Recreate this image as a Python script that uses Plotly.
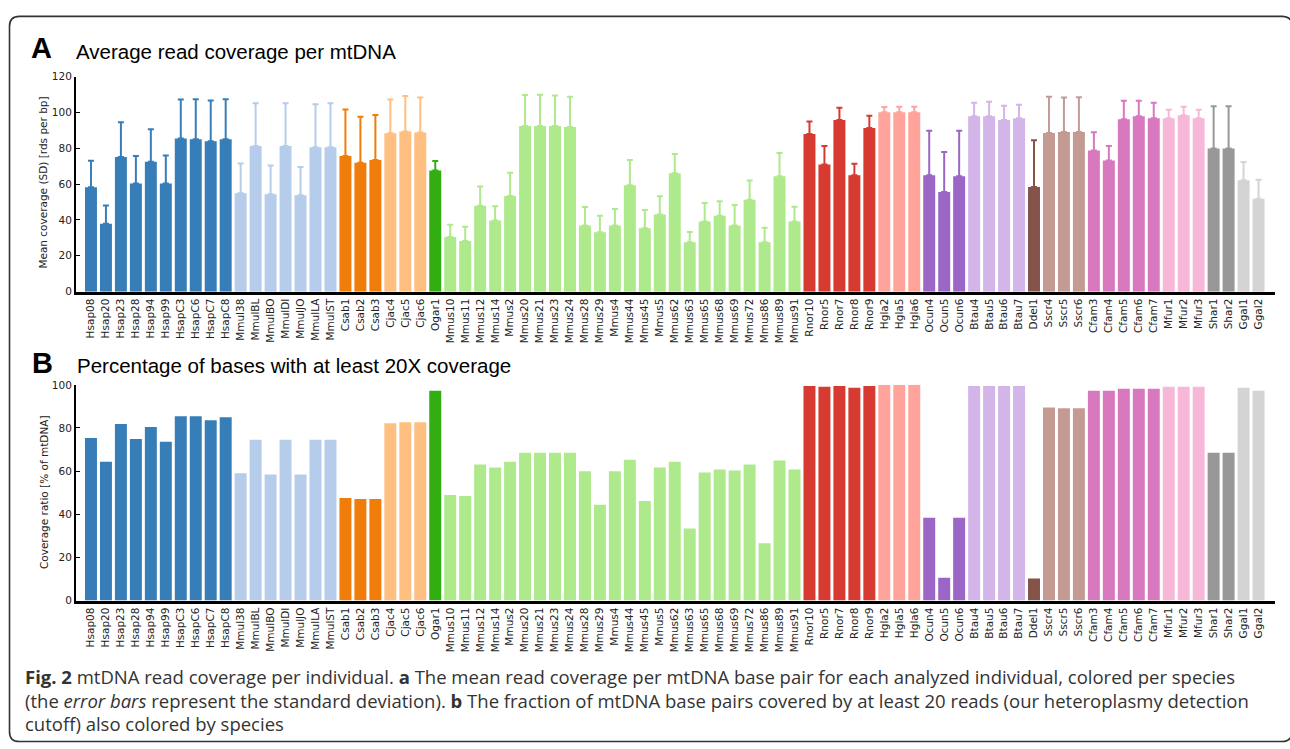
import plotly.graph_objects as go

# ---------------- data ----------------
labels = [
    "Hsap08", "Hsap20", "Hsap23", "Hsap28", "Hsap94", "Hsap99", "HsapC3", "HsapC6", "HsapC7", "HsapC8",
    "Mmul38", "MmulBL", "MmulBO", "MmulDI", "MmulJO", "MmulLA", "MmulST",
    "Csab1", "Csab2", "Csab3",
    "Cjac4", "Cjac5", "Cjac6",
    "Ogar1",
    "Mmus10", "Mmus11", "Mmus12", "Mmus14", "Mmus2", "Mmus20", "Mmus21", "Mmus23", "Mmus24", "Mmus28",
    "Mmus29", "Mmus4", "Mmus44", "Mmus45", "Mmus5", "Mmus62", "Mmus63", "Mmus65", "Mmus68", "Mmus69",
    "Mmus72", "Mmus86", "Mmus89", "Mmus91",
    "Rnor10", "Rnor5", "Rnor7", "Rnor8", "Rnor9",
    "Hgla2", "Hgla5", "Hgla6",
    "Ocun4", "Ocun5", "Ocun6",
    "Btau4", "Btau5", "Btau6", "Btau7",
    "Ddel1",
    "Sscr4", "Sscr5", "Sscr6",
    "Cfam3", "Cfam4", "Cfam5", "Cfam6", "Cfam7",
    "Mfur1", "Mfur2", "Mfur3",
    "Shar1", "Shar2",
    "Ggal1", "Ggal2",
]

mean_cov = [
    58.2, 37.9, 75.1, 60.4, 72.4, 60.4, 85.5, 85.0, 83.9, 85.0,
    54.9, 81.2, 54.3, 81.2, 53.8, 80.6, 80.6,
    75.7, 71.9, 73.5,
    88.3, 89.4, 88.8,
    67.6,
    30.5, 28.2, 47.9, 39.7, 53.4, 92.4, 92.4, 92.4, 91.8, 36.9,
    33.1, 36.9, 59.4, 35.3, 43.0, 66.0, 27.6, 39.1, 42.4, 36.9,
    51.2, 27.6, 64.4, 39.1,
    88.0, 71.0, 95.7, 64.9, 91.3,
    100.1, 100.1, 100.1,
    64.9, 55.6, 64.4,
    97.9, 97.9, 95.7, 96.8,
    58.4,
    88.5, 89.1, 89.1,
    78.7, 73.2, 96.2, 97.9, 96.8,
    96.8, 98.4, 96.8,
    79.8, 79.8,
    62.2, 51.8,
]

sd_cov = [
    14.8, 10.1, 19.4, 15.3, 18.2, 15.5, 21.7, 22.4, 22.8, 22.4,
    16.6, 23.9, 16.1, 23.9, 15.7, 23.9, 24.5,
    25.9, 25.7, 25.0,
    18.9, 19.7, 19.5,
    5.3,
    6.8, 8.0, 10.8, 8.0, 13.0, 17.3, 17.5, 17.0, 17.0, 10.3,
    9.3, 9.2, 14.1, 10.2, 10.2, 10.8, 5.7, 10.3, 8.1, 11.4,
    10.8, 8.1, 13.0, 8.3,
    6.9, 10.2, 6.9, 6.4, 6.9,
    2.9, 3.1, 3.1,
    24.9, 22.3, 25.4,
    7.5, 8.0, 8.0, 7.5,
    26.1,
    20.2, 19.2, 19.4,
    10.2, 8.0, 10.3, 8.6, 8.6,
    4.7, 4.8, 4.7,
    23.7, 23.7,
    10.1, 10.6,
]

pct20 = [
    75.4, 64.4, 81.8, 74.9, 80.4, 73.6, 85.4, 85.4, 83.6, 85.0,
    59.0, 74.5, 58.5, 74.5, 58.5, 74.5, 74.5,
    47.6, 47.1, 47.1,
    82.2, 82.7, 82.7,
    97.3,
    48.9, 48.5, 63.1, 61.7, 64.4, 68.5, 68.5, 68.5, 68.5, 59.9,
    44.4, 59.9, 65.3, 46.2, 61.7, 64.4, 33.4, 59.4, 60.8, 60.3,
    63.1, 26.6, 64.9, 60.8,
    99.5, 99.1, 99.5, 98.6, 99.5,
    100.0, 100.0, 100.0,
    38.4, 10.6, 38.4,
    99.5, 99.5, 99.5, 99.5,
    10.2,
    89.5, 89.1, 89.1,
    97.3, 97.3, 98.2, 98.2, 98.2,
    99.1, 99.1, 99.1,
    68.5, 68.5,
    98.6, 97.3,
]

species_order = ["Hsap", "Mmul", "Csab", "Cjac", "Ogar", "Mmus", "Rnor", "Hgla",
                 "Ocun", "Btau", "Ddel", "Sscr", "Cfam", "Mfur", "Shar", "Ggal"]

panel_a_title = "Average read coverage per mtDNA"
panel_b_title = "Percentage of bases with at least 20X coverage"
ytitle_a = "Mean coverage (SD) [rds per bp]"
ytitle_b = "Coverage ratio [% of mtDNA]"
caption_lines = [
    "<b>Fig. 2</b> mtDNA read coverage per individual. <b>a</b> The mean read coverage per mtDNA base pair for each analyzed individual, colored per species",
    "(the <i>error bars</i> represent the standard deviation). <b>b</b> The fraction of mtDNA base pairs covered by at least 20 reads (our heteroplasmy detection",
    "cutoff) also colored by species",
]

# ---------------- style ----------------
colors = {
    "Hsap": "#377eb8", "Mmul": "#b5cdea", "Csab": "#f07c0a", "Cjac": "#ffbf80",
    "Ogar": "#33ae12", "Mmus": "#aee98c", "Rnor": "#d63a31", "Hgla": "#ffa39b",
    "Ocun": "#9b66c6", "Btau": "#d3b5ea", "Ddel": "#84544b", "Sscr": "#c49b93",
    "Cfam": "#d878be", "Mfur": "#f7b8d8", "Shar": "#989898", "Ggal": "#d4d4d4",
}

W, H = 1290, 749


def px(x):
    return x / W


def py(y):
    return 1 - y / H


species = [lab[:4] for lab in labels]

fig = go.Figure()
for sp in species_order:
    idx = [i for i, s in enumerate(species) if s == sp]
    xs = [labels[i] for i in idx]
    fig.add_trace(go.Bar(
        x=xs, y=[mean_cov[i] for i in idx],
        marker=dict(color=colors[sp], line=dict(width=0)),
        error_y=dict(type="data", symmetric=False,
                     array=[sd_cov[i] for i in idx],
                     arrayminus=[0] * len(idx),
                     color=colors[sp], thickness=2, width=3),
        xaxis="x", yaxis="y", showlegend=False, name=sp,
    ))
    fig.add_trace(go.Bar(
        x=xs, y=[pct20[i] for i in idx],
        marker=dict(color=colors[sp], line=dict(width=0)),
        xaxis="x2", yaxis="y2", showlegend=False, name=sp,
    ))

tickfont = dict(family="DejaVu Sans", size=10.5, color="#222222")
xdom = [px(76), px(1275)]
common_x = dict(
    type="category", categoryorder="array", categoryarray=labels,
    range=[-1.0, 79.1], tickangle=-90, showline=True, linecolor="black",
    linewidth=2.5, ticks="", tickfont=tickfont, showgrid=False, zeroline=False,
    domain=xdom, fixedrange=True,
)
common_y = dict(
    ticks="inside", ticklen=4, tickwidth=1.2, tickcolor="black", dtick=20,
    showline=True, linecolor="black", linewidth=2, showgrid=False,
    zeroline=False, tickfont=tickfont, fixedrange=True,
)

fig.update_layout(
    width=W, height=H, autosize=False,
    margin=dict(l=0, r=0, t=0, b=0),
    paper_bgcolor="white", plot_bgcolor="white",
    barmode="overlay", bargap=0.2,
    xaxis=dict(anchor="y", **common_x),
    yaxis=dict(anchor="x", domain=[py(290.3), py(71.7)], range=[0, 120], **common_y),
    xaxis2=dict(anchor="y2", **common_x),
    yaxis2=dict(anchor="x2", domain=[py(604.3), py(385)], range=[0, 100], **common_y),
)

ann = []
title_font = "Liberation Sans, Arial, sans-serif"
ann.append(dict(text="<b>A</b>", x=px(29), y=py(43), xanchor="left", yanchor="middle",
                font=dict(family=title_font, size=29, color="black")))
ann.append(dict(text=panel_a_title, x=px(74), y=py(46.5), xanchor="left", yanchor="middle",
                font=dict(family=title_font, size=20.5, color="black")))
ann.append(dict(text="<b>B</b>", x=px(30), y=py(362.5), xanchor="left", yanchor="middle",
                font=dict(family=title_font, size=29, color="black")))
ann.append(dict(text=panel_b_title, x=px(75), y=py(365), xanchor="left", yanchor="middle",
                font=dict(family=title_font, size=20.5, color="black")))
ann.append(dict(text=ytitle_a, x=px(43.5), y=py(180), xanchor="center", yanchor="middle",
                textangle=-90, font=dict(family="DejaVu Sans", size=10.5, color="#222222")))
ann.append(dict(text=ytitle_b, x=px(43.5), y=py(494.5), xanchor="center", yanchor="middle",
                textangle=-90, font=dict(family="DejaVu Sans", size=10.5, color="#222222")))
cap_centers = [681.5, 705.5, 729]
for k, line in enumerate(caption_lines):
    ann.append(dict(text=line, x=px(23), y=py(cap_centers[k]), xanchor="left", yanchor="middle",
                    font=dict(family="Open Sans, sans-serif", size=18.5, color="#333333")))
for a in ann:
    a.update(xref="paper", yref="paper", showarrow=False)
fig.update_layout(annotations=ann)

# rounded frame
x0, y0, x1, y1, r = 9.5, 10.5, 1292.0, 747.5, 10.0
path = (
    f"M {px(x0 + r)},{py(y0)} L {px(x1 - r)},{py(y0)} "
    f"Q {px(x1)},{py(y0)} {px(x1)},{py(y0 + r)} L {px(x1)},{py(y1 - r)} "
    f"Q {px(x1)},{py(y1)} {px(x1 - r)},{py(y1)} L {px(x0 + r)},{py(y1)} "
    f"Q {px(x0)},{py(y1)} {px(x0)},{py(y1 - r)} L {px(x0)},{py(y0 + r)} "
    f"Q {px(x0)},{py(y0)} {px(x0 + r)},{py(y0)} Z"
)
fig.add_shape(type="path", path=path, xref="paper", yref="paper",
              line=dict(color="#333333", width=1.6), fillcolor="rgba(0,0,0,0)", layer="above")

fig.write_html("out.html", config={"displayModeBar": False},
               post_script="document.body.style.margin='0';")
